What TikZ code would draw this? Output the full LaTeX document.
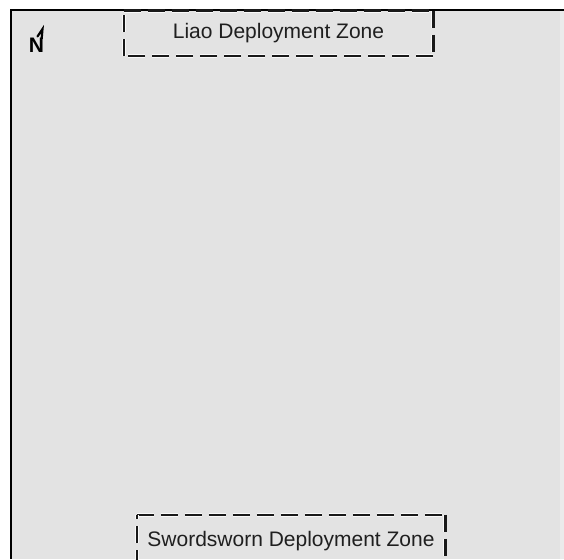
\documentclass[tikz,border=0pt]{standalone}
\usepackage{fontspec}
\setmainfont{Liberation Sans}
\begin{document}
\begin{tikzpicture}[x=1pt,y=-1pt,
  zonetext/.style={font=\fontsize{21}{24}\selectfont, text=black!88, inner sep=0pt},
  halo/.style={white!95!gray, line width=4.4pt, dash pattern=on 17pt off 7pt},
  zoneline/.style={black!90, line width=2.6pt, dash pattern=on 17pt off 7pt},
  frameline/.style={black, line width=2.6pt}]
\useasboundingbox (0,0) rectangle (564,559);
\clip (0,0) rectangle (564,559);
\fill[white] (0,0) rectangle (564,559);
\fill[gray!22] (11,10) rectangle (564,559);
\fill[gray!16] (560,10) rectangle (564,559);
% frame
\coordinate (ftl) at (11,10);
\coordinate (ftr) at (564,10);
\coordinate (fbl) at (11,559);
\draw[frameline] (ftr) -- (ftl) -- (fbl);
% zone nodes
\node[zonetext, minimum width=309pt, minimum height=45pt] (liao) at (278.5,33.5) {Liao Deployment Zone};
\node[zonetext, minimum width=308pt, minimum height=52pt] (sword) at (291,541) {Swordsworn Deployment Zone};
% Liao dashed outline
\foreach \a/\b in {north west/north east, north east/south east, south east/south west, south west/north west}{
  \draw[halo] (liao.\a) -- (liao.\b);
  \draw[zoneline] (liao.\a) -- (liao.\b);
}
\foreach \a/\b in {north west/north east, north east/south east, south west/north west}{
  \draw[halo] (sword.\a) -- (sword.\b);
  \draw[zoneline] (sword.\a) -- (sword.\b);
}
% north marker
\node[font=\bfseries\fontsize{21}{24}\selectfont, inner sep=0pt, anchor=south] (north) at (36.5,53) {N};
\coordinate (ntip) at (42.5,29);
\draw[line width=2.2pt, line cap=round] (north.north east) ++(-2.6,0.5) -- (ntip) -- (37.5,36.5);
\end{tikzpicture}
\end{document}
